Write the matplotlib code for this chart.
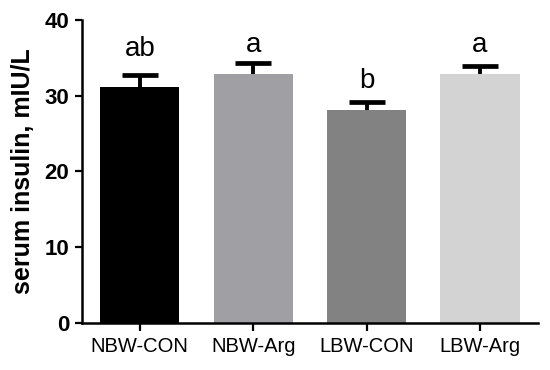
import numpy as np
import matplotlib
matplotlib.use("Agg")
import matplotlib.pyplot as plt

# data
groups = ["NBW-CON", "NBW-Arg", "LBW-CON", "LBW-Arg"]
means = [31.2, 32.9, 28.1, 32.9]
sem = [1.6, 1.4, 1.1, 1.0]
letters = ["ab", "a", "b", "a"]
letter_y = [35.3, 35.8, 31.0, 35.8]
colors = ["#000000", "#a09fa4", "#828282", "#d3d3d3"]

plt.rcParams["font.family"] = ["Liberation Sans", "DejaVu Sans"]

fig = plt.figure(figsize=(5.5, 3.7), dpi=100)
ax = fig.add_axes([0.149, 0.127, 0.829, 0.819])

x = np.arange(len(groups))
ax.bar(x, means, width=0.7, color=colors, zorder=2)
eb = ax.errorbar(x, means, yerr=[np.zeros(len(sem)), sem], fmt="none",
                 ecolor="black", elinewidth=2.8, capsize=13, capthick=3.4, zorder=3)
# only the upper cap is shown
eb[1][0].set_visible(False)

for xi, lab, ly in zip(x, letters, letter_y):
    ax.text(xi, ly, lab, ha="center", va="baseline", fontsize=20)

ax.set_xlim(-0.51, 3.51)
ax.set_ylim(0, 40)
ax.set_yticks([0, 10, 20, 30, 40])
ax.set_xticks(x)
ax.set_xticklabels(groups, fontsize=14.5)
for t in ax.get_yticklabels():
    t.set_fontsize(16)
    t.set_fontweight("bold")
ax.set_ylabel("serum insulin, mIU/L", fontsize=18, fontweight="bold", labelpad=7)

ax.spines["top"].set_visible(False)
ax.spines["right"].set_visible(False)
ax.spines["left"].set_linewidth(1.8)
ax.spines["bottom"].set_linewidth(1.8)
ax.tick_params(axis="y", length=5, width=1.6, pad=4)
ax.tick_params(axis="x", length=6, width=1.6, pad=4)

fig.savefig("out.png", dpi=100)
